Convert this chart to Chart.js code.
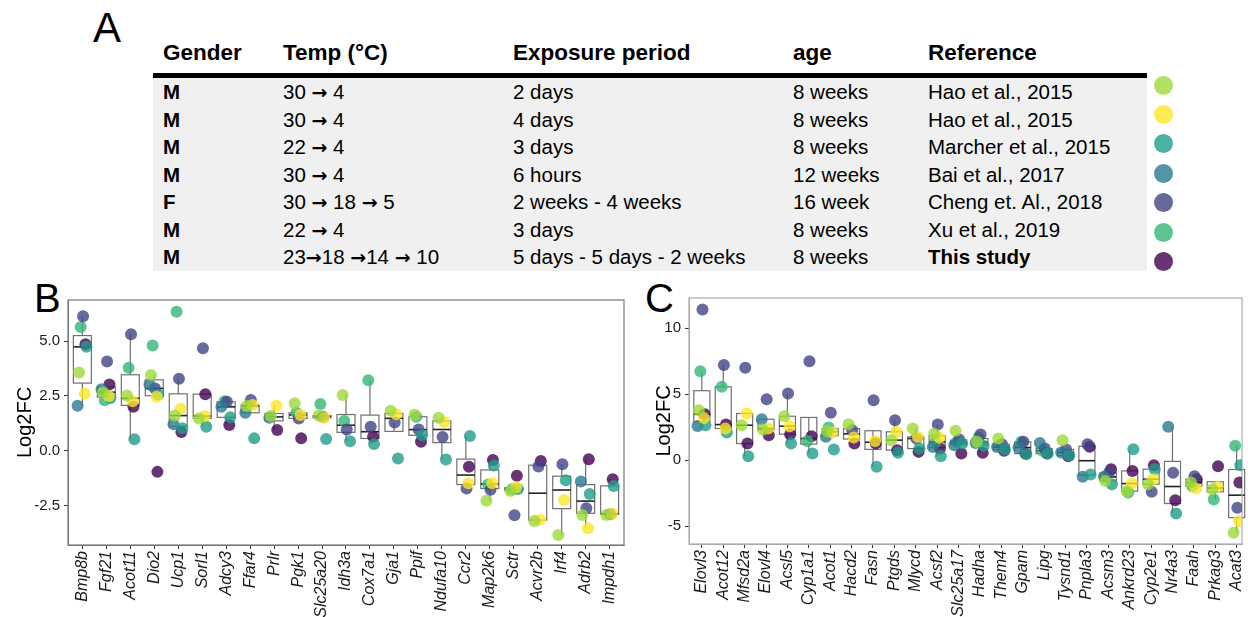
<!DOCTYPE html>
<html>
<head>
<meta charset="utf-8">
<script src="https://cdn.jsdelivr.net/npm/chart.js@4.4.1/dist/chart.umd.min.js"></script>
<style>
  body { margin: 0; width: 1248px; height: 617px; overflow: hidden; background: #fff; font-family: "Liberation Sans", Arial, sans-serif; }
  .panel-letter { position: absolute; color: #000; line-height: 1; }
  #tbl { position: absolute; left: 153px; top: 33px; width: 994px; border-collapse: collapse; table-layout: fixed; }
  #tbl th { height: 40px; padding: 0 0 0 10px; text-align: left; font-size: 22.5px; font-weight: bold; border-bottom: 5px solid #000; vertical-align: middle; }
  #tbl td { height: 27.5px; padding: 0 0 0 10px; font-size: 20.5px; line-height: 27.5px; background: #f0f0f0; white-space: nowrap; overflow: hidden; }
  #tbl td.b { font-weight: bold; }
  .arr { font-family: "DejaVu Sans", sans-serif; font-weight: bold; font-size: 19px; line-height: 0; }
  .dot { position: absolute; width: 19px; height: 19px; border-radius: 50%; }
  canvas { position: absolute; }
</style>
</head>
<body>
<div class="panel-letter" style="left:93px; top:7px; font-size:42px;">A</div>
<div class="panel-letter" style="left:34px; top:278px; font-size:40px;">B</div>
<div class="panel-letter" style="left:645px; top:278px; font-size:40px;">C</div>
<table id="tbl"></table>
<canvas id="chartB" width="640" height="327" style="left:0; top:290px;"></canvas>
<canvas id="chartC" width="608" height="327" style="left:640px; top:290px;"></canvas>
<script>
// ---- table (panel A) ----
const HEADERS = ['Gender', 'Temp (°C)', 'Exposure period', 'age', 'Reference'];
const GENDER = ['M', 'M', 'M', 'M', 'F', 'M', 'M'];
const TEMP = ['30 → 4', '30 → 4', '22 → 4', '30 → 4', '30 → 18 → 5', '22 → 4', '23→18 →14 → 10'];
const PERIOD = ['2 days', '4 days', '3 days', '6 hours', '2 weeks - 4 weeks', '3 days', '5 days - 5 days - 2 weeks'];
const AGE = ['8 weeks', '8 weeks', '8 weeks', '12 weeks', '16 week', '8 weeks', '8 weeks'];
const REFS = ['Hao et al., 2015', 'Hao et al., 2015', 'Marcher et al., 2015', 'Bai et al., 2017', 'Cheng et. Al., 2018', 'Xu et al., 2019', 'This study'];
const COLORS = ['#9FDA3A', '#FDE725', '#1F9E89', '#2A788E', '#414487', '#35B779', '#440154'];

// ---- panel B ----
const GENES_B = ['Bmp8b', 'Fgf21', 'Acot11', 'Dio2', 'Ucp1', 'Sorl1', 'Adcy3', 'Ffar4', 'Prlr', 'Pgk1', 'Slc25a20', 'Idh3a',
  'Cox7a1', 'Gja1', 'Ppif', 'Ndufa10', 'Ccr2', 'Map2k6', 'Sctr', 'Acvr2b', 'Irf4', 'Adrb2', 'Impdh1'];
const B_HAO_2D = [3.57, 2.67, 2.52, 3.45, 1.6, 1.47, null, 2.04, 1.58, 2.16, 1.6, 2.54, null, 1.82, 1.64, 1.5, null, -2.29, -1.84, -3.21, -3.85, -2.94, -2.94];
const B_HAO_4D = [2.6, 2.5, 2.26, 2.46, 1.91, 1.58, null, 2.08, 2.05, 1.63, 1.5, null, null, 1.66, null, 1.31, -1.49, -1.49, -1.67, -3.16, -2.25, -3.55, -2.88];
const B_MARCHER = [4.74, 2.4, 0.52, 2.56, 1.02, 1.09, 1.52, 0.56, null, null, 0.53, 0.43, 0.3, -0.36, 0.7, -0.4, 0.67, -0.68, -1.75, null, -1.35, -1.98, -1.61];
const B_BAI = [2.05, 2.8, null, 3.02, 1.2, null, 2.0, 1.73, 1.5, null, null, null, null, null, null, null, null, null, null, null, null, -1.41, null];
const B_CHENG = [6.14, 4.07, 5.32, 2.84, 3.28, 4.68, 2.23, 2.31, null, 1.47, 1.55, 0.97, 1.09, 1.29, 0.96, 0.62, -1.73, -1.79, -2.95, -0.73, -0.62, -2.63, -2.9];
const B_XU = [5.65, 2.3, 3.78, 4.8, 6.34, null, 2.26, null, null, 1.73, 2.13, 1.35, 3.22, null, 1.55, null, null, -1.55, -1.76, null, null, null, null];
const B_THIS = [4.86, 3.02, 2.0, -0.97, 0.85, 2.58, 1.17, null, 0.94, 0.56, null, null, 0.64, null, 0.41, null, -0.74, -0.43, -1.15, -0.47, null, -0.39, -1.31];
const B_Y_TICKS = [-2.5, 0, 2.5, 5];
const B_Y_TICK_LABELS = ['-2.5', '0.0', '2.5', '5.0'];

// ---- panel C ----
const GENES_C = ['Elovl3', 'Acot12', 'Mfsd2a', 'Elovl4', 'Acsl5', 'Cyp1a1', 'Acot1', 'Hacd2', 'Fasn', 'Ptgds', 'Mlycd', 'Acsf2', 'Slc25a17',
  'Hadha', 'Them4', 'Gpam', 'Lipg', 'Tysnd1', 'Pnpla3', 'Acsm3', 'Ankrd23', 'Cyp2e1', 'Nr4a3', 'Faah', 'Prkag3', 'Acat3'];
const C_HAO_2D = [3.79, null, 2.65, 2.3, 3.33, null, 2.2, 2.73, null, 1.52, 2.4, 2.0, 2.23, 1.39, 1.64, null, null, 1.52, null, -1.57, -2.35, -1.82, null, -1.69, -2.2, -5.5];
const C_HAO_4D = [3.2, 2.4, 3.54, 2.4, 2.58, null, 2.1, 1.72, 1.46, 2.15, 1.77, 1.72, null, null, null, null, null, null, null, null, -1.77, -1.44, null, -2.15, -2.02, -4.6];
const C_MARCHER = [2.65, 2.1, 0.3, null, 1.26, 0.5, 0.81, null, -0.5, 0.56, 0.88, 0.3, 1.27, 1.1, 0.8, 0.45, 0.5, 0.35, -1.09, -1.82, 0.83, -0.68, -4.04, null, null, -0.38];
const C_BAI = [2.6, null, null, 3.1, null, null, 1.77, null, null, null, null, 1.0, 1.14, 1.3, 1.0, 0.96, 1.31, 0.58, -1.26, -1.26, null, null, 2.53, null, null, null];
const C_CHENG = [11.41, 7.22, 7.0, 4.62, 5.05, 7.5, 3.59, 2.27, 4.55, 3.03, 1.64, 2.71, 1.57, 1.95, 1.2, 1.39, 0.88, 0.81, 1.21, -0.96, null, -2.4, -0.96, -1.21, null, -3.61];
const C_XU = [6.74, 5.56, null, null, null, 1.46, 2.47, null, null, null, null, 1.39, 1.39, 1.72, null, 1.39, 0.71, null, null, null, -2.45, null, null, -1.97, -2.98, 1.09];
const C_THIS = [3.48, 2.7, 1.26, 1.89, 1.97, 1.82, null, 1.26, 1.26, 0.76, 0.63, 0.89, 0.51, 0.56, 0.71, 0.5, 0.5, 0.3, 1.01, -0.68, -0.81, -0.38, -3.03, -1.44, -0.45, -1.69];
const C_Y_TICKS = [-5, 0, 5, 10];
const C_Y_TICK_LABELS = ['-5', '0', '5', '10'];

// horizontal spread of the points inside a gene column (category units)
const JITTER = [-0.14, 0.1, 0.17, -0.2, 0.03, -0.07, 0.13];
const FONT = '"Liberation Sans", Arial, sans-serif';

function alpha(hex, a) {
    var n = parseInt(hex.slice(1), 16);
    return 'rgba(' + (n >> 16) + ',' + ((n >> 8) & 255) + ',' + (n & 255) + ',' + a + ')';
}

function arrows(s) {
    return s.replace(/→/g, '<span class="arr">→</span>');
}

function buildTable() {
    var tbl = document.getElementById('tbl');
    var widths = [120, 230, 280, 135, 229];
    var html = '<colgroup>' + widths.map(w => '<col style="width:' + w + 'px">').join('') + '</colgroup>';
    html += '<tr>' + HEADERS.map(h => '<th>' + h + '</th>').join('') + '</tr>';
    GENDER.forEach(function (g, i) {
        html += '<tr><td class="b">' + g + '</td><td>' + arrows(TEMP[i]) + '</td><td>' + PERIOD[i] + '</td><td>' + AGE[i] +
            '</td><td' + (REFS[i] === 'This study' ? ' class="b"' : '') + '>' + REFS[i] + '</td></tr>';
    });
    tbl.innerHTML = html;

    COLORS.forEach(function (c, i) {
        var d = document.createElement('div');
        d.className = 'dot';
        d.style.left = (1163 - 9.5) + 'px';
        d.style.top = (85 + i * 29.45 - 9.5) + 'px';
        d.style.background = alpha(c, 0.8);
        document.body.appendChild(d);
    });
}

function quantile(sorted, p) {
    var h = (sorted.length - 1) * p;
    var lo = Math.floor(h);
    var hi = Math.min(lo + 1, sorted.length - 1);
    return sorted[lo] + (h - lo) * (sorted[hi] - sorted[lo]);
}

// boxes + whiskers drawn under the points, plus the panel frame
function makeBoxPlugin(series, count, frameColor) {
    return {
        id: 'boxes',
        beforeDatasetsDraw(chart) {
            var ctx = chart.ctx, x = chart.scales.x, y = chart.scales.y, area = chart.chartArea;
            ctx.save();
            for (var i = 0; i < count; i++) {
                var vals = series.map(s => s[i]).filter(v => v !== null).sort((a, b) => a - b);
                if (!vals.length) continue;
                var q1 = quantile(vals, 0.25), med = quantile(vals, 0.5), q3 = quantile(vals, 0.75);
                var iqr = q3 - q1;
                var lowW = vals.find(v => v >= q1 - 1.5 * iqr);
                var highW = vals.slice().reverse().find(v => v <= q3 + 1.5 * iqr);
                var xl = x.getPixelForValue(i - 0.375), xr = x.getPixelForValue(i + 0.375), xc = x.getPixelForValue(i);
                ctx.strokeStyle = '#707070';
                ctx.lineWidth = 1.2;
                ctx.beginPath();
                ctx.moveTo(xc, y.getPixelForValue(q3));
                ctx.lineTo(xc, y.getPixelForValue(highW));
                ctx.moveTo(xc, y.getPixelForValue(q1));
                ctx.lineTo(xc, y.getPixelForValue(lowW));
                ctx.stroke();
                ctx.strokeRect(xl, y.getPixelForValue(q3), xr - xl, y.getPixelForValue(q1) - y.getPixelForValue(q3));
                ctx.strokeStyle = '#222';
                ctx.lineWidth = 1.6;
                ctx.beginPath();
                ctx.moveTo(xl, y.getPixelForValue(med));
                ctx.lineTo(xr, y.getPixelForValue(med));
                ctx.stroke();
            }
            ctx.strokeStyle = frameColor;
            ctx.lineWidth = 1.2;
            ctx.strokeRect(area.left, area.top, area.right - area.left, area.bottom - area.top);
            ctx.restore();
        }
    };
}

function makeChart(canvasId, genes, series, yMin, yMax, yTicks, yLabels, opts) {
    var datasets = series.map(function (arr, k) {
        return {
            data: arr.map((v, i) => v === null ? null : { x: i + JITTER[k], y: v }).filter(Boolean),
            backgroundColor: alpha(COLORS[k], 0.8),
            borderWidth: 0,
            pointRadius: 6,
            pointHoverRadius: 6
        };
    });

    return new Chart(document.getElementById(canvasId), {
        type: 'scatter',
        data: { datasets: datasets },
        plugins: [makeBoxPlugin(series, genes.length, opts.frame)],
        options: {
            responsive: false,
            animation: false,
            devicePixelRatio: 1,
            layout: { padding: { top: opts.padTop, right: opts.padRight, left: 0, bottom: 0 } },
            plugins: { legend: { display: false }, tooltip: { enabled: false } },
            scales: {
                x: {
                    type: 'linear',
                    min: -0.6,
                    max: opts.xMax,
                    afterBuildTicks: function (s) { s.ticks = genes.map((g, i) => ({ value: i })); },
                    afterFit: function (s) { s.height = opts.xHeight; s.paddingLeft = 0; s.paddingRight = 0; },
                    ticks: {
                        autoSkip: false, minRotation: 90, maxRotation: 90, padding: 2,
                        color: '#1a1a1a',
                        font: { family: FONT, size: 16, style: 'italic' },
                        callback: v => genes[v]
                    },
                    grid: { drawOnChartArea: false, drawTicks: true, tickLength: 4, color: '#333' },
                    border: { display: true, color: opts.frame }
                },
                y: {
                    type: 'linear',
                    min: yMin,
                    max: yMax,
                    afterBuildTicks: function (s) { s.ticks = yTicks.map(v => ({ value: v })); },
                    afterFit: function (s) { s.width = opts.yWidth; s.paddingTop = 0; s.paddingBottom = 0; },
                    ticks: {
                        padding: 4,
                        color: '#1a1a1a',
                        font: { family: FONT, size: 15 },
                        callback: (v, i) => yLabels[i]
                    },
                    grid: { drawOnChartArea: false, drawTicks: true, tickLength: 4, color: '#333' },
                    border: { display: true, color: opts.frame },
                    title: {
                        display: true, text: 'Log2FC', color: '#000',
                        font: { family: FONT, size: 20 },
                        padding: { top: opts.titlePad, bottom: 0 }
                    }
                }
            }
        }
    });
}

buildTable();

makeChart('chartB', GENES_B, [B_HAO_2D, B_HAO_4D, B_MARCHER, B_BAI, B_CHENG, B_XU, B_THIS],
    -4.31, 6.88, B_Y_TICKS, B_Y_TICK_LABELS,
    { xMax: GENES_B.length - 0.4, padTop: 10, padRight: 16, xHeight: 72, yWidth: 68, titlePad: 13, frame: '#777' });

makeChart('chartC', GENES_C, [C_HAO_2D, C_HAO_4D, C_MARCHER, C_BAI, C_CHENG, C_XU, C_THIS],
    -6.35, 12.29, C_Y_TICKS, C_Y_TICK_LABELS,
    { xMax: 25.25, padTop: 8, padRight: 1, xHeight: 73, yWidth: 49, titlePad: 12, frame: '#aaa' });
</script>
</body>
</html>
